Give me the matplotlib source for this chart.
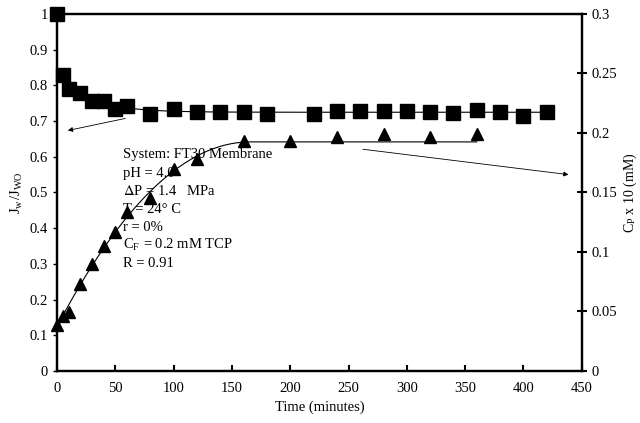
import numpy as np
import matplotlib
matplotlib.use('Agg')
import matplotlib.pyplot as plt

plt.rcParams['font.family'] = ['Liberation Serif', 'DejaVu Serif']
plt.rcParams['mathtext.fontset'] = 'stix'

# flux ratio (left axis)
t_flux = [0, 5, 10, 20, 30, 40, 50, 60, 80, 100, 120, 140, 160, 180,
          220, 240, 260, 280, 300, 320, 340, 360, 380, 400, 420]
flux = [1.0, 0.83, 0.79, 0.78, 0.755, 0.757, 0.733, 0.742, 0.72, 0.733,
        0.725, 0.725, 0.725, 0.72, 0.72, 0.728, 0.728, 0.728, 0.727,
        0.724, 0.722, 0.732, 0.725, 0.713, 0.725]

# permeate concentration x 10 (right axis)
t_perm = [0, 5, 10, 20, 30, 40, 50, 60, 80, 100, 120, 160, 200, 240,
          280, 320, 360]
perm = [0.039, 0.0465, 0.0495, 0.0735, 0.090, 0.105, 0.117, 0.1335,
        0.1455, 0.1695, 0.1785, 0.1935, 0.1935, 0.1965, 0.1995, 0.1965,
        0.1995]

notes = ['System: FT30 Membrane', 'pH = 4.0', r'$\Delta$P = 1.4   MPa',
         'T = 24° C', 'r = 0%', r'C$_\mathregular{F}$ = 0.2 mM TCP',
         'R = 0.91']

fig = plt.figure(figsize=(6.4, 4.23), dpi=100)
ax = fig.add_axes([0.089, 0.123, 0.82, 0.844])
ax2 = ax.twinx()

tf = np.array(t_flux, float)
yf = np.array(flux)
tp = np.array(t_perm, float)
yp = np.array(perm)

# trend for flux: exponential decay onto the plateau
plateau = yf[tf >= 80].mean()
sel = (tf > 0) & (tf <= 60)
m, b = np.polyfit(tf[sel], np.log(yf[sel] - plateau + 1e-3), 1)
tt = np.linspace(0, 420, 300)
ax.plot(tt, plateau + np.exp(b) * np.exp(m * tt), color='black', lw=0.8)
ax.plot(tf, yf, 's', color='black', ms=9.5, clip_on=False, zorder=5)

# trend for permeate: quadratic rise held flat once it levels off
top = yp[tp >= 160].mean()
c = np.polyfit(tp[tp <= 160], yp[tp <= 160], 2)
tt2 = np.linspace(0, 360, 300)
rise = np.maximum.accumulate(np.polyval(c, tt2))
ax2.plot(tt2, np.minimum(rise, top), color='black', lw=0.8)
ax2.plot(tp, yp, '^', color='black', ms=8, clip_on=False)

ax.set_xlim(0, 450)
ax.set_ylim(0, 1)
ax2.set_ylim(0, 0.3)
ax.set_xticks(np.arange(0, 451, 50))
ax.set_yticks(np.arange(0, 1.01, 0.1))
ax.set_yticklabels(['0', '0.1', '0.2', '0.3', '0.4', '0.5', '0.6', '0.7',
                    '0.8', '0.9', '1'])
ax2.set_yticks(np.arange(0, 0.301, 0.05))
ax2.set_yticklabels(['0', '0.05', '0.1', '0.15', '0.2', '0.25', '0.3'])

for a in (ax, ax2):
    for s in a.spines.values():
        s.set_linewidth(1.6)
ax.tick_params(axis='x', direction='in', length=4, width=1.5,
               labelsize=10.5, pad=8)
ax.tick_params(axis='y', direction='out', length=3, width=1.0,
               labelsize=10.5)
ax2.tick_params(axis='y', direction='inout', length=7, width=1.5,
                labelsize=10.5)

ax.set_xlabel('Time (minutes)', fontsize=10.5, labelpad=4)
ax.set_ylabel(r'J$_\mathregular{w}$/J$_\mathregular{WO}$', fontsize=10.5,
              labelpad=3)
ax2.set_ylabel(r'C$_\mathregular{P}$ x 10 (mM)', fontsize=10, labelpad=3)

# arrows pointing at the axis each series belongs to
ax.annotate('', xy=(7, 0.672), xytext=(61, 0.709),
            arrowprops=dict(arrowstyle='-|>', color='black', lw=0.6,
                            mutation_scale=7))
ax.annotate('', xy=(441, 0.549), xytext=(260, 0.622),
            arrowprops=dict(arrowstyle='-|>', color='black', lw=0.6,
                            mutation_scale=7))

for i, line in enumerate(notes):
    ax.text(57, 0.605 - i * 0.0505, line, fontsize=10.5, va='center')

fig.savefig('out.png', dpi=100)
